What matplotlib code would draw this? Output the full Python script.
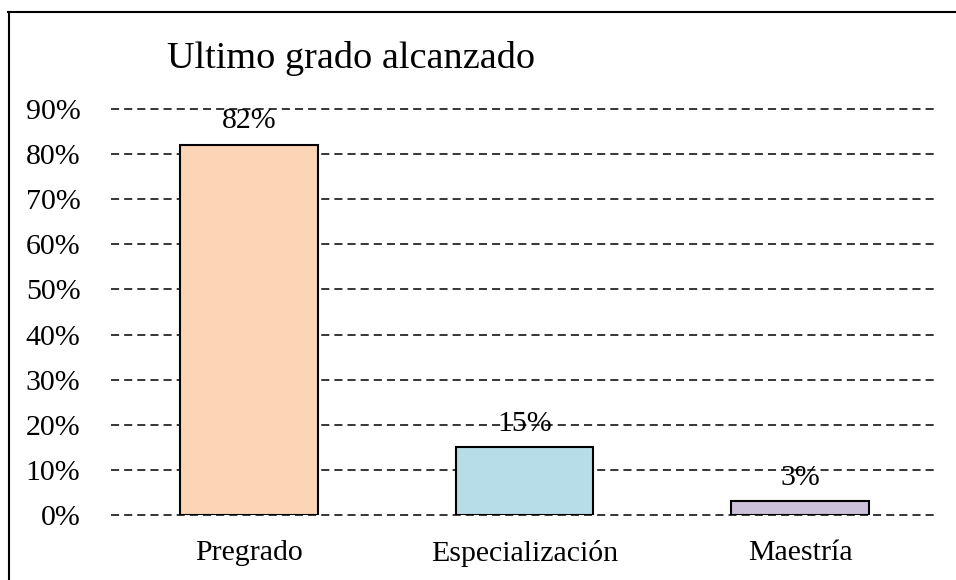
import matplotlib
matplotlib.use("Agg")
import matplotlib.pyplot as plt
from matplotlib.lines import Line2D

categories = ["Pregrado", "Especialización", "Maestría"]
values = [0.82, 0.15, 0.03]
value_labels = ["82%", "15%", "3%"]
yticks = [0.0, 0.1, 0.2, 0.3, 0.4, 0.5, 0.6, 0.7, 0.8, 0.9]
ytick_labels = ["0%", "10%", "20%", "30%", "40%", "50%", "60%", "70%", "80%", "90%"]
colors = ["#FBD5B5", "#B7DDE8", "#CCC1DA"]
title = "Ultimo grado alcanzado"

plt.rcParams['font.family'] = ['Liberation Serif', 'DejaVu Serif']

W, H = 956, 580
fig = plt.figure(figsize=(W / 100, H / 100), dpi=100)
ax = fig.add_axes([111 / W, 1 - 515 / H, (938 - 111) / W, (515 - 109) / H])

x = list(range(len(categories)))
ax.bar(x, values, width=0.5, color=colors, edgecolor="black", linewidth=1.5, zorder=3)

ax.set_xlim(-0.5, 2.5)
ax.set_ylim(0, 0.9)
ax.set_yticks(yticks)
ax.set_yticklabels(ytick_labels, fontsize=21.5)
ax.set_xticks(x)
ax.set_xticklabels(categories, fontsize=21.5)
ax.tick_params(axis="both", length=0)
ax.tick_params(axis="y", pad=22)
ax.tick_params(axis="x", pad=18)
for s in ax.spines.values():
    s.set_visible(False)

ax.grid(axis="y", color="black", linewidth=1.1, linestyle=(0, (5.3, 3.3)), zorder=1)
ax.set_axisbelow(True)
for gl in ax.get_ygridlines():
    gl.set_clip_on(False)

for xi, v, lab in zip(x, values, value_labels):
    ax.annotate(lab, (xi, v), xytext=(0, 17), textcoords="offset points",
                ha="center", va="center", fontsize=21.5, zorder=5)

fig.text(351 / W, 1 - 58 / H, title, ha="center", va="center", fontsize=27.5)

# frame lines (top and left only)
fig.add_artist(Line2D([8 / W, 1.0], [1 - 11.5 / H, 1 - 11.5 / H], color="black", linewidth=1.5,
                      transform=fig.transFigure))
fig.add_artist(Line2D([8.5 / W, 8.5 / W], [0, 1 - 11.5 / H], color="black", linewidth=1.5,
                      transform=fig.transFigure))

fig.savefig("out.png", dpi=100)
